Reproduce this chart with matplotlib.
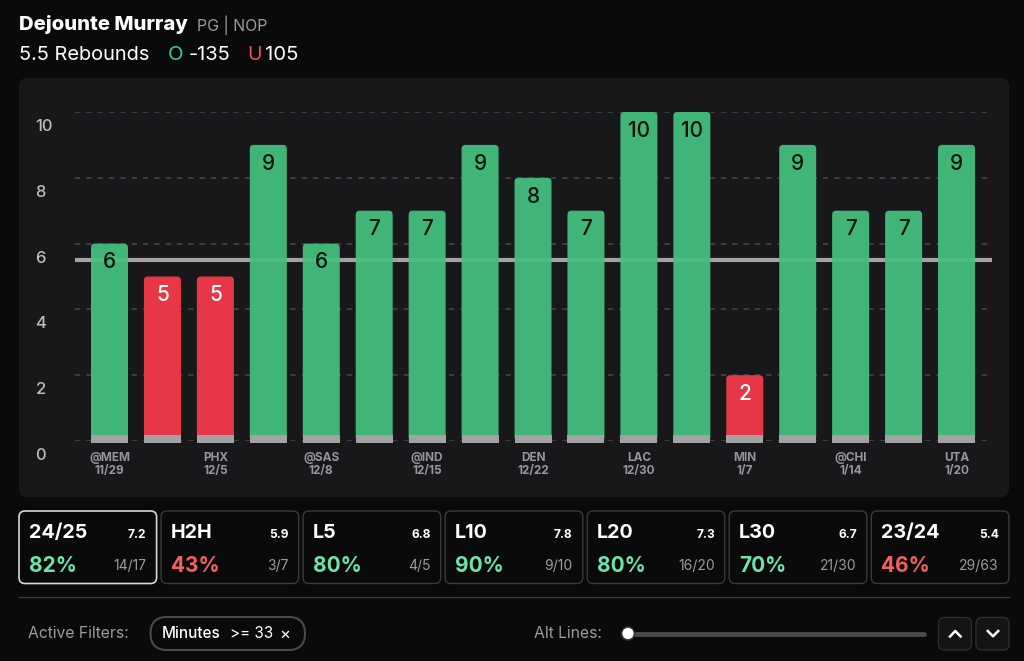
import matplotlib
matplotlib.use("Agg")
from matplotlib import pyplot as plt
from matplotlib.patches import FancyBboxPatch, Rectangle, Circle
from matplotlib.transforms import ScaledTranslation

plt.rcParams["font.family"] = ["Inter", "DejaVu Sans"]

rebounds = [6, 5, 5, 9, 6, 7, 7, 9, 8, 7, 10, 10, 2, 9, 7, 7, 9]
prop_line = 5.5
y_ticks = [0, 2, 4, 6, 8, 10]
x_labels = {0: "@MEM\n11/29", 2: "PHX\n12/5", 4: "@SAS\n12/8", 6: "@IND\n12/15",
            8: "DEN\n12/22", 10: "LAC\n12/30", 12: "MIN\n1/7", 14: "@CHI\n1/14",
            16: "UTA\n1/20"}

card_names = ["24/25", "H2H", "L5", "L10", "L20", "L30", "23/24"]
card_avgs = ["7.2", "5.9", "6.8", "7.8", "7.3", "6.7", "5.4"]
card_pcts = [82, 43, 80, 90, 80, 70, 46]
card_fracs = ["14/17", "3/7", "4/5", "9/10", "16/20", "21/30", "29/63"]

BG = "#0a0a0b"
PANEL = "#18181b"
GREEN = "#41b578"
RED = "#e73746"
GREY = "#a3a3a3"
MUTED = "#9b9ba1"
LIGHT_GREEN = "#6fe3a8"
LIGHT_RED = "#f4605f"

W, H = 1024, 661
fig = plt.figure(figsize=(W / 100, H / 100), dpi=100, facecolor=BG)

# overlay in pixel coords for the page around the chart
ui = fig.add_axes([0, 0, 1, 1])
ui.set_xlim(0, W)
ui.set_ylim(H, 0)
ui.axis("off")


def box(x0, y0, x1, y1, r=8, fc="none", ec="none", lw=1.0):
    ui.add_patch(FancyBboxPatch((x0 + r, y0 + r), x1 - x0 - 2 * r, y1 - y0 - 2 * r,
                                boxstyle=f"round,pad={r}", fc=fc, ec=ec, lw=lw))


box(19, 78, 1009, 497, r=8, fc=PANEL)

ui.text(19, 24, "Dejounte Murray", color="white", fontsize=14.6, fontweight="heavy", va="center")
ui.text(197, 25, "PG | NOP", color=MUTED, fontsize=11.4, va="center")
ui.text(19, 54.5, "5.5 Rebounds", color="white", fontsize=14.4, va="center")
ui.text(168, 54.5, "O", color="#45c486", fontsize=14.6, va="center")
ui.text(189, 54.5, "-135", color="white", fontsize=14.4, va="center")
ui.text(247, 54.5, "U", color="#ef5350", fontsize=14, va="center")
ui.text(265.5, 54.5, "105", color="white", fontsize=14.6, va="center")

# chart axes, pixel box matches gridlines 0 and 10
L, R, T, B = 75, 992, 112, 441
ax = fig.add_axes([L / W, 1 - B / H, (R - L) / W, (B - T) / H])
ax.patch.set_alpha(0)
ax.set_xlim((L - 109.5) / 52.94, (R - 109.5) / 52.94)
ax.set_ylim(0, 10)
for s in ax.spines.values():
    s.set_visible(False)

ax.set_yticks(y_ticks)
ax.set_yticklabels([str(v) for v in y_ticks])
ax.tick_params(axis="y", length=0, pad=28.4, labelcolor="#bdbdc0", labelsize=12)
px_down = ScaledTranslation(0, -13 / 100, fig.dpi_scale_trans)
for lab in ax.get_yticklabels():
    lab.set_transform(lab.get_transform() + px_down)
    lab.set_ha("left")
    lab.set_fontweight("medium")

ax.set_xticks(list(x_labels.keys()))
ax.set_xticklabels(list(x_labels.values()), linespacing=1.05)
ax.tick_params(axis="x", length=0, pad=8, labelcolor="#96969b", labelsize=8.5)
for lab in ax.get_xticklabels():
    lab.set_fontweight("bold")

ax.grid(axis="y", color="#46464a", lw=1.2, dashes=(3.1, 3.7))
ax.set_axisbelow(True)

width = 37 / 52.94
r = 4 / 52.94
stub_top = 0.17
stub_bottom = -0.06
for i, v in enumerate(rebounds):
    color = GREEN if v > prop_line else RED
    ax.add_patch(FancyBboxPatch((i - width / 2, 0), width, v,
                                boxstyle=f"round,pad=0,rounding_size={r}",
                                mutation_aspect=52.94 / 32.9, fc=color, ec="none", zorder=2))
    ax.add_patch(Rectangle((i - width / 2, stub_bottom), width, stub_top - stub_bottom,
                           fc=GREY, ec="none", zorder=3, clip_on=False))
    ax.annotate(str(v), (i, v), xytext=(0, -13.5), textcoords="offset points", ha="center",
                va="center", fontsize=15, fontweight="medium",
                color="white" if v < prop_line else "#08140d", zorder=5)
# line sits behind the bars with a dark rim, only a faint tint shows through
ax.axhline(prop_line, color="#111113", lw=3.8, zorder=1.5)
ax.axhline(prop_line, color="#9c9c9c", lw=3.0, zorder=1.6)
ax.axhline(prop_line, color="white", lw=3.0, alpha=0.08, zorder=2.5)

# stat cards
for i, name in enumerate(card_names):
    x0 = 19 + 142.05 * i
    x1 = x0 + 137.6
    box(x0, 511, x1, 583.5, r=6, ec="#d8d8d8" if i == 0 else "#3a3a3d", lw=1.2 if i == 0 else 1.0)
    ui.text(x0 + 10, 532.5, name, color="white", fontsize=14.2, fontweight="bold", va="center")
    ui.text(x1 - 10, 535, card_avgs[i], color="white", fontsize=8.6, fontweight="bold",
            va="center", ha="right")
    pct_color = LIGHT_GREEN if card_pcts[i] >= 50 else LIGHT_RED
    ui.text(x0 + 10, 565.5, f"{card_pcts[i]}%", color=pct_color, fontsize=15, fontweight="bold",
            va="center")
    ui.text(x1 - 10, 566, card_fracs[i], color=MUTED, fontsize=10, va="center", ha="right")

# footer
ui.plot([19, 1009], [597, 597], color="#3a3a3d", lw=1)
ui.text(28, 634, "Active Filters:", color=MUTED, fontsize=11.3, va="center")
box(150.5, 617, 305, 650, r=16.5, ec="#4a4a4e", lw=1.5)
ui.text(162, 634, "Minutes", color="white", fontsize=11, va="center", fontweight="medium")
ui.text(230, 634, ">= 33", color="white", fontsize=11, va="center")
ui.text(285, 634, "×", color="white", fontsize=12, va="center", ha="center")
ui.text(534.5, 634, "Alt Lines:", color=MUTED, fontsize=11.3, va="center")
ui.plot([628, 924], [633.5, 633.5], color="#4a4a4e", lw=3.5, solid_capstyle="round")
ui.add_patch(Circle((628, 633.5), 6.5, fc="white", ec="#2a3038", lw=1.2, zorder=5))
box(938.5, 617.5, 971.5, 650, r=6, fc="#141416", ec="#2e2e32")
box(976, 617.5, 1009, 650, r=6, fc="#141416", ec="#2e2e32")
ui.plot([950, 955.3, 960.6], [636.5, 631, 636.5], color="white", lw=1.8)
ui.plot([987.8, 993, 998.2], [631, 636.3, 631], color="white", lw=1.8)

fig.savefig("out.png", dpi=100, facecolor=BG)
